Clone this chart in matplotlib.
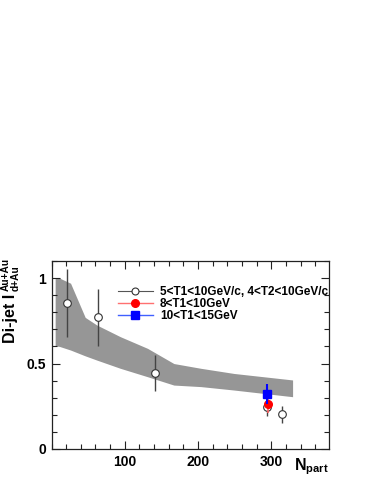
import numpy as np
import matplotlib
matplotlib.use("Agg")
import matplotlib.pyplot as plt
from matplotlib.ticker import MultipleLocator

plt.rcParams['font.family'] = ['Liberation Sans', 'DejaVu Sans']
plt.rcParams['font.weight'] = 'bold'
plt.rcParams['mathtext.fontset'] = 'custom'
plt.rcParams['mathtext.rm'] = 'Liberation Sans:bold'
plt.rcParams['mathtext.bf'] = 'Liberation Sans:bold'
plt.rcParams['mathtext.it'] = 'Liberation Sans:bold'

# Systematic band (upper / lower edges)
band_x = [5, 11, 26, 46, 62, 94, 131, 167, 204, 249, 329]
band_hi = [1.00, 1.00, 0.97, 0.77, 0.725, 0.657, 0.589, 0.50, 0.472, 0.442, 0.404]
band_lo = [0.604, 0.60, 0.579, 0.545, 0.52, 0.472, 0.423, 0.374, 0.365, 0.345, 0.306]

# 5<T1<10GeV/c, 4<T2<10GeV/c
npart_a = [21, 63, 141, 294, 315]
val_a = [0.856, 0.770, 0.446, 0.244, 0.203]
err_a = [0.20, 0.165, 0.104, 0.05, 0.048]

# 8<T1<10GeV
npart_b = [296]
val_b = [0.265]
err_b = [0.055]

# 10<T1<15GeV
npart_c = [294]
val_c = [0.322]
err_c = [0.058]

legend_labels = ['5<T1<10GeV/c, 4<T2<10GeV/c', '8<T1<10GeV', '10<T1<15GeV']

fig = plt.figure(figsize=(3.74, 4.84), dpi=100)
ax = fig.add_axes([51.5 / 374, 35 / 484, 277 / 374, 188 / 484])

ax.fill_between(band_x, band_lo, band_hi, color='#969696', lw=0)

ax.errorbar(npart_a, val_a, yerr=err_a, fmt='o', ms=5.5, mfc='white', mec='#333333',
            mew=0.8, ecolor='#444444', elinewidth=1.0, capsize=0, zorder=3)
ax.errorbar(npart_b, val_b, yerr=err_b, fmt='o', ms=5.5, mfc='red', mec='red',
            ecolor='#ff6060', elinewidth=1.2, capsize=0, zorder=4)
ax.errorbar(npart_c, val_c, yerr=err_c, fmt='s', ms=5.5, mfc='blue', mec='blue',
            ecolor='blue', elinewidth=1.5, capsize=0, zorder=5)

# legend handles
h1, = ax.plot([], [], '-o', color='#555555', lw=0.8, ms=5, mfc='white', mec='#333333', mew=0.8)
h2, = ax.plot([], [], '-o', color='#ff7070', lw=1.0, ms=5.5, mfc='red', mec='red')
h3, = ax.plot([], [], '-s', color='#4060ff', lw=1.0, ms=5.5, mfc='blue', mec='blue')
ax.legend([h1, h2, h3], legend_labels,
          loc='upper left', bbox_to_anchor=(66 / 277, 1 - 25 / 188),
          frameon=False, fontsize=8.5, handlelength=3.0, handletextpad=0.6,
          labelspacing=0.02, borderaxespad=0, borderpad=0)

ax.set_xlim(0, 378)
ax.set_ylim(0, 1.1)
ax.set_xticks([100, 200, 300])
ax.set_yticks([0, 0.5, 1])
ax.set_yticklabels(['0', '0.5', '1'])
ax.xaxis.set_minor_locator(MultipleLocator(20))
ax.yaxis.set_minor_locator(MultipleLocator(0.1))
ax.tick_params(which='both', direction='in', top=True, right=True, width=0.8, color='#222222')
ax.tick_params(which='major', length=6, labelsize=10, pad=4)
ax.tick_params(which='minor', length=3.5)
for lbl in ax.get_xticklabels() + ax.get_yticklabels():
    lbl.set_fontweight('bold')
for s in ax.spines.values():
    s.set_linewidth(0.9)
    s.set_color('#222222')

# y title: main text plus stacked super/subscript
fig.text(11 / 374, 1 - 343 / 484, 'Di-jet I', rotation=90, ha='center', va='bottom',
         fontsize=11.5, fontweight='bold')
fig.text(6 / 374, 1 - 291 / 484, 'Au+Au', rotation=90, ha='center', va='bottom',
         fontsize=7.3, fontweight='bold')
fig.text(15.5 / 374, 1 - 291 / 484, 'd+Au', rotation=90, ha='center', va='bottom',
         fontsize=7.3, fontweight='bold')
fig.text(329 / 374, 1 - 456 / 484, r'N$_{\mathbf{part}}$',
         ha='right', va='top', fontsize=11.5, fontweight='bold')

fig.savefig('out.png', dpi=100)
